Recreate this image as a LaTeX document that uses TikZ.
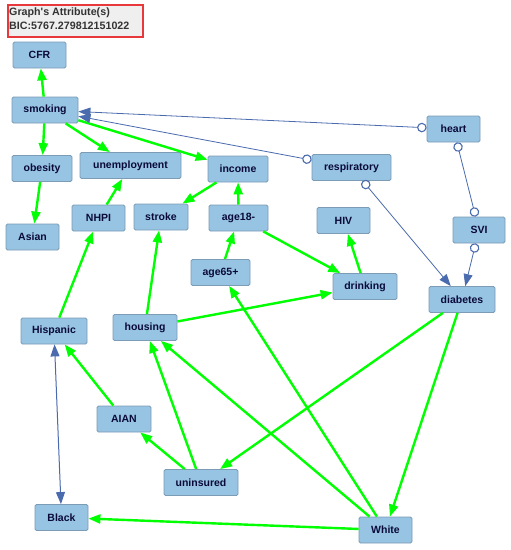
\documentclass[tikz,border=0pt]{standalone}
\usepackage{fontspec}
\setmainfont{Liberation Sans}[Ligatures=TeXOff]
\usetikzlibrary{arrows.meta}
\definecolor{nodefill}{HTML}{97C4E2}
\definecolor{nodeborder}{HTML}{7C9CB6}
\definecolor{nodetext}{HTML}{0A0A3A}
\definecolor{edgegreen}{HTML}{00FF00}
\definecolor{edgeblue}{HTML}{4A6BAE}
\definecolor{titlered}{HTML}{E8383C}
\definecolor{titlefill}{HTML}{EFEFEF}
\definecolor{titletext}{HTML}{333333}
\begin{document}
\begin{tikzpicture}[x=1pt,y=-1pt,
  var/.style={draw=nodeborder, fill=nodefill, rounded corners=1.5pt, line width=0.8pt,
    minimum height=26pt, inner sep=0pt, text=nodetext,
    font=\fontsize{10.5}{12}\selectfont\bfseries},
  ge/.style={draw=edgegreen, line width=2.4pt, arrows={-Triangle[length=12pt,width=9pt]}},
  be/.style={draw=edgeblue, line width=0.8pt},
  bo/.style={be, arrows={Circle[fill=white,length=9.5pt,width=9.5pt,line width=1.1pt]-Triangle[length=12pt,width=9pt]}},
  boo/.style={be, arrows={Circle[fill=white,length=9.5pt,width=9.5pt,line width=1.1pt]-Circle[fill=white,length=9.5pt,width=9.5pt,line width=1.1pt]}},
  bb/.style={be, line width=1pt, arrows={Triangle[length=12pt,width=9pt]-Triangle[length=12pt,width=9pt]}}
]
\useasboundingbox[fill=white] (0,0) rectangle (511,550);
\draw[draw=titlered, fill=titlefill, line width=1.1pt] (8,5) rectangle (143,37);
\node[anchor=north west, align=left, inner sep=0pt, text=titletext,
  font=\fontsize{10.7}{14}\selectfont\bfseries] (title) at (9,8)
  {Graph's Attribute(s)\\BIC:5767.279812151022};

\node[var, minimum width=53pt] (CFR) at (39.5,55) {CFR};
\node[var, minimum width=66pt] (smoking) at (45,110) {smoking};
\node[var, minimum width=60pt] (obesity) at (42,168.5) {obesity};
\node[var, minimum width=101pt] (unemployment) at (130.5,165.5) {unemployment};
\node[var, minimum width=60pt] (income) at (238,169) {income};
\node[var, minimum width=79pt] (respiratory) at (351.5,167.5) {respiratory};
\node[var, minimum width=53pt] (heart) at (453.5,129) {heart};
\node[var, minimum width=53pt] (Asian) at (32.5,237) {Asian};
\node[var, minimum width=53pt] (NHPI) at (98.5,218) {NHPI};
\node[var, minimum width=54pt] (stroke) at (161,217) {stroke};
\node[var, minimum width=59pt] (age18) at (238.5,218) {age18-};
\node[var, minimum width=53pt] (HIV) at (343.5,220.5) {HIV};
\node[var, minimum width=52pt] (SVI) at (479,230) {SVI};
\node[var, minimum width=59pt] (age65) at (220.5,272.5) {age65+};
\node[var, minimum width=64pt] (drinking) at (365,286.5) {drinking};
\node[var, minimum width=66pt] (diabetes) at (462,299.5) {diabetes};
\node[var, minimum width=66pt] (Hispanic) at (54,331) {Hispanic};
\node[var, minimum width=64pt] (housing) at (145,327.5) {housing};
\node[var, minimum width=54pt] (AIAN) at (124,419) {AIAN};
\node[var, minimum width=74pt] (uninsured) at (201,482.5) {uninsured};
\node[var, minimum width=53pt] (Black) at (61.5,517.5) {Black};
\node[var, minimum width=53pt] (White) at (385.5,530) {White};

% green directed edges
\draw[ge] (smoking) -- (CFR);
\draw[ge] (smoking) -- (obesity);
\draw[ge] (smoking) -- (unemployment);
\draw[ge] (smoking) -- (income);
\draw[ge] (obesity) -- (Asian);
\draw[ge] (NHPI) -- (unemployment);
\draw[ge] (income) -- (stroke);
\draw[ge] (age18) -- (income);
\draw[ge] (age65) -- (age18);
\draw[ge] (age18) -- (drinking);
\draw[ge] (drinking) -- (HIV);
\draw[ge] (housing) -- (stroke);
\draw[ge] (housing) -- (drinking);
\draw[ge] (Hispanic) -- (NHPI);
\draw[ge] (AIAN) -- (Hispanic);
\draw[ge] (uninsured) -- (AIAN);
\draw[ge] (uninsured) -- (housing);
\draw[ge] (White) -- (housing);
\draw[ge] (White) -- (age65);
\draw[ge] (diabetes) -- (uninsured);
\draw[ge] (diabetes) -- (White);
\draw[ge] (White) -- (Black);

% blue edges
\draw[bo] (heart) -- (smoking);
\draw[bo] (respiratory) -- (smoking);
\draw[boo] (heart) -- (SVI);
\draw[bo] (respiratory) -- (diabetes);
\draw[bo] (SVI) -- (diabetes);
\draw[bb] (Hispanic) -- (Black);
\end{tikzpicture}
\end{document}
